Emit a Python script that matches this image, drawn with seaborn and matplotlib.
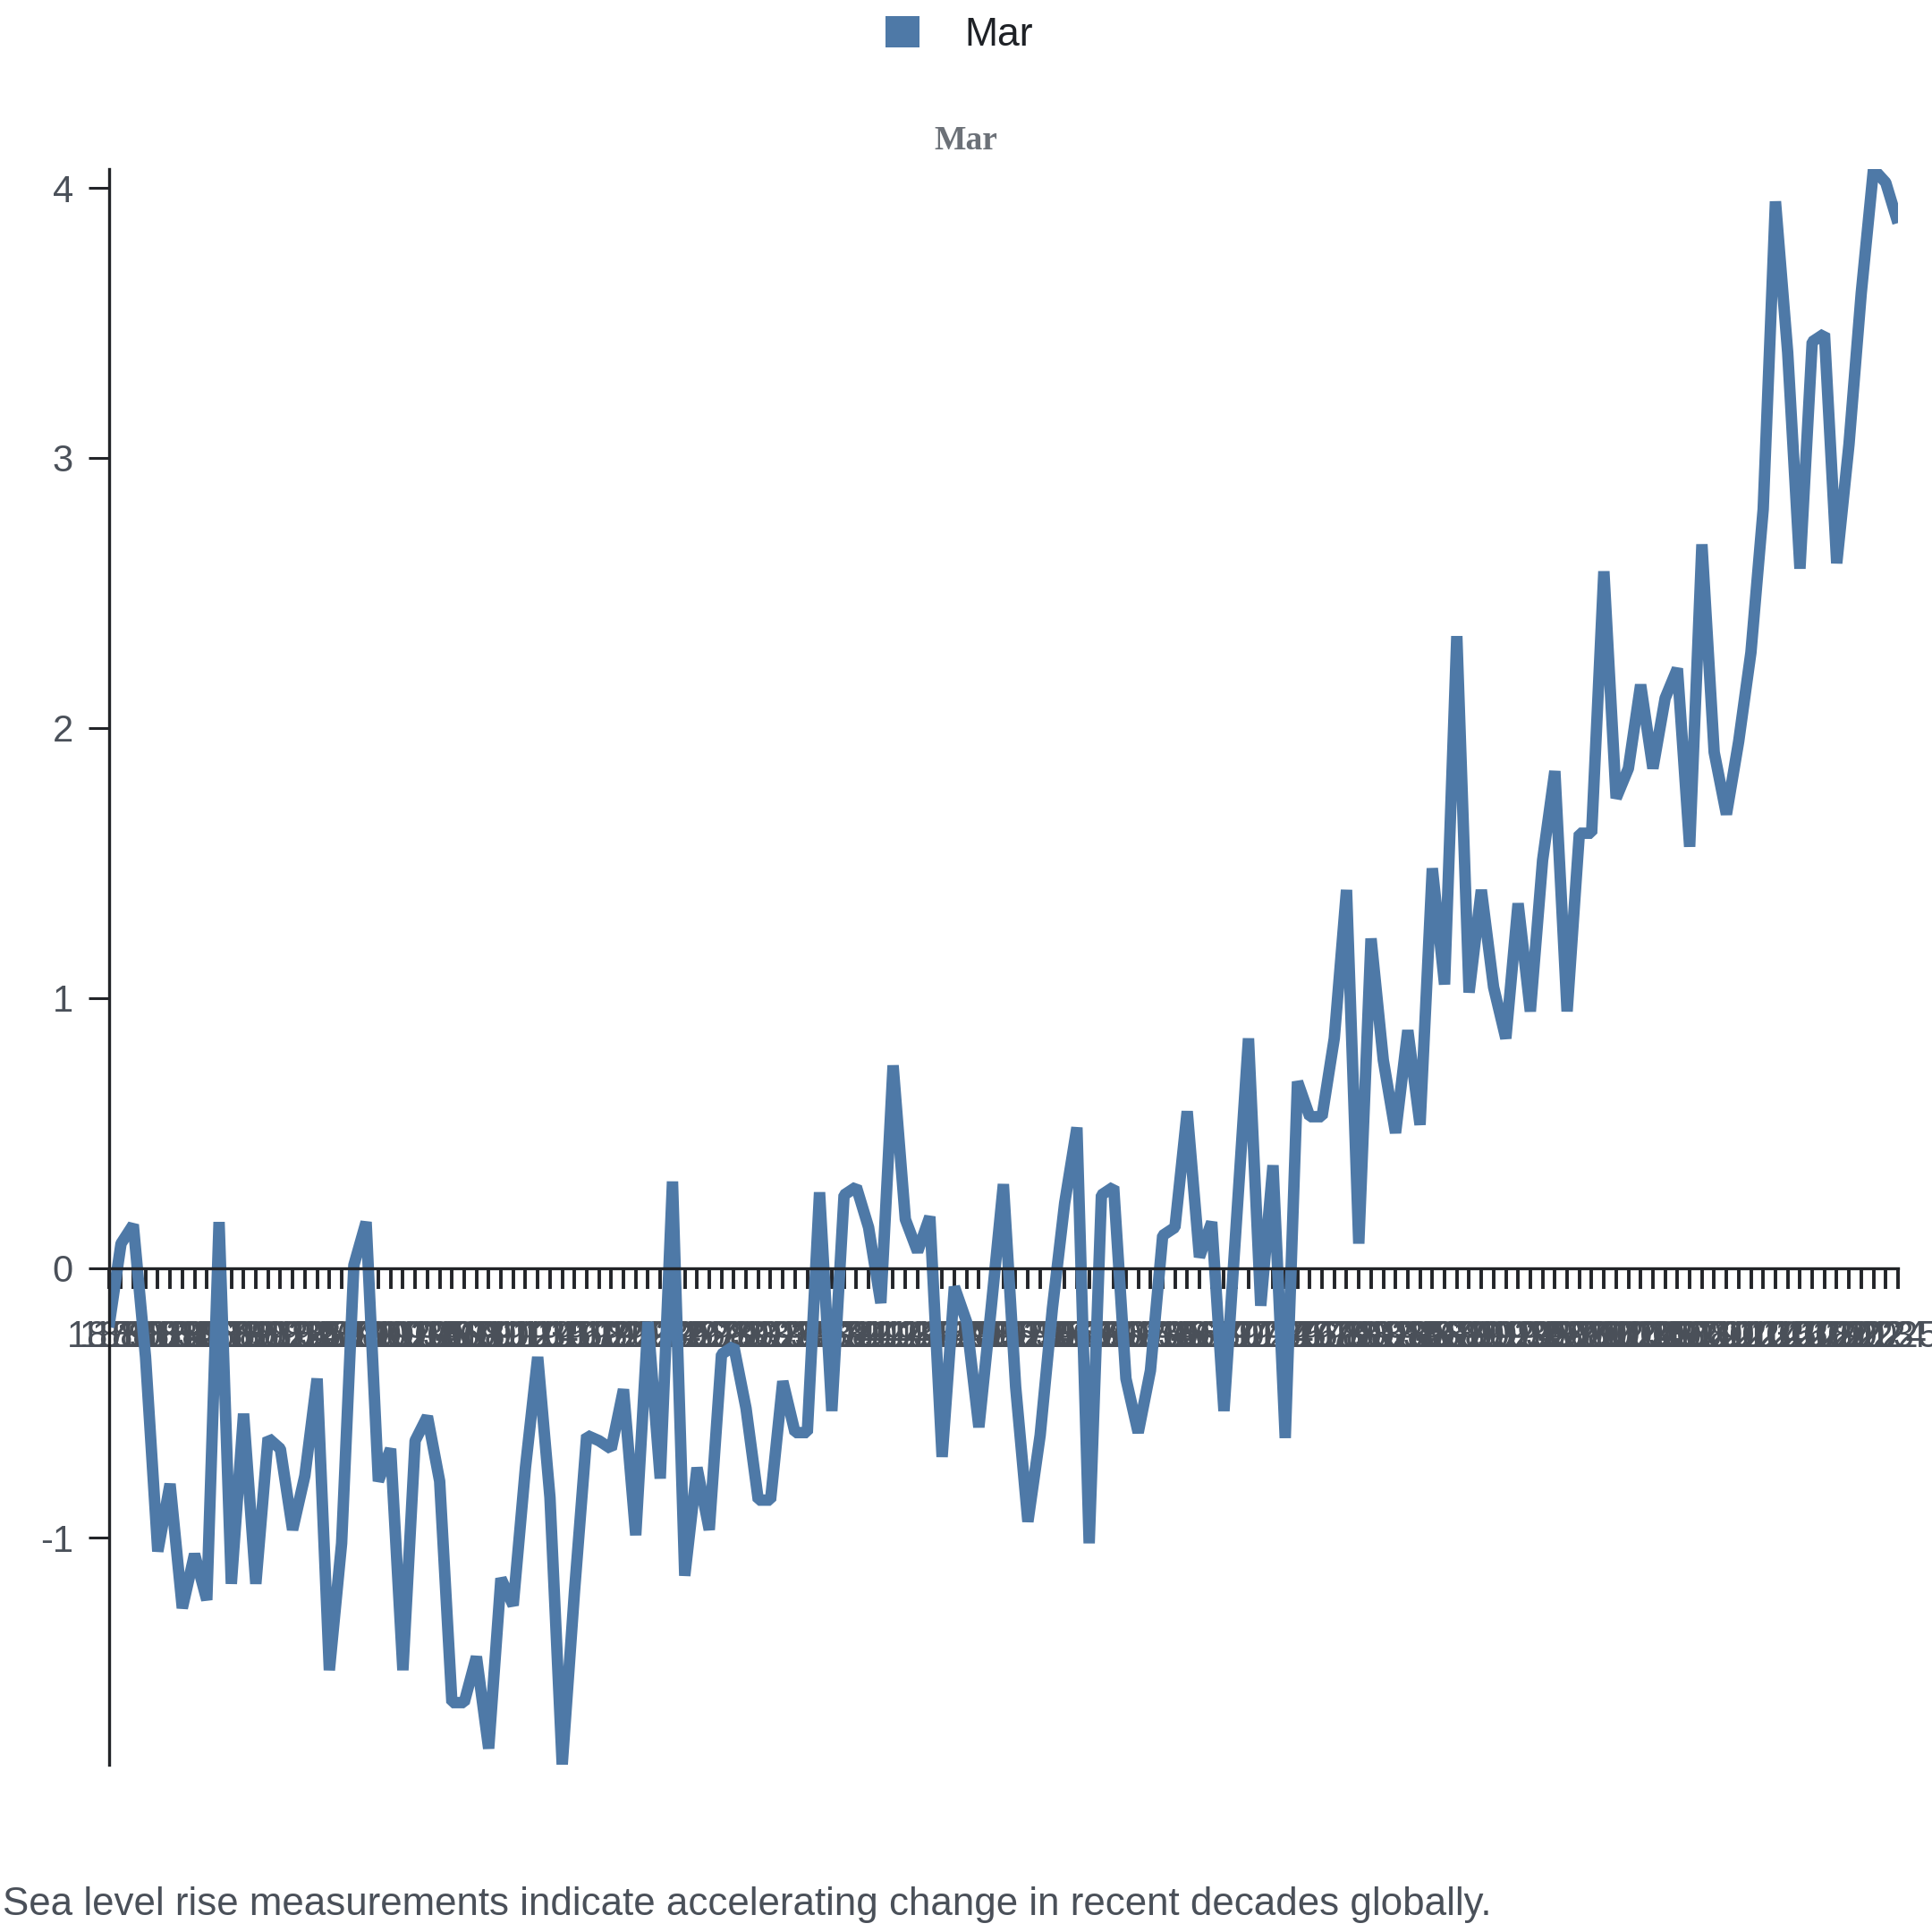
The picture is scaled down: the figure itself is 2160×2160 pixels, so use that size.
import matplotlib
matplotlib.use("Agg")
import matplotlib.pyplot as plt
from matplotlib.patches import Patch
import seaborn as sns
import pandas as pd

years = list(range(1879, 2026))
values = [
    -0.22, 0.09, 0.16, -0.33, -1.05, -0.80, -1.26, -1.06, -1.23, 0.17,
    -1.17, -0.54, -1.17, -0.63, -0.67, -0.97, -0.77, -0.41, -1.49, -1.02,
    0.01, 0.17, -0.79, -0.67, -1.49, -0.64, -0.55, -0.79, -1.61, -1.61,
    -1.44, -1.78, -1.15, -1.25, -0.74, -0.33, -0.85, -1.84, -1.20, -0.62,
    -0.64, -0.67, -0.45, -0.99, -0.20, -0.78, 0.32, -1.14, -0.74, -0.97,
    -0.32, -0.29, -0.52, -0.86, -0.86, -0.42, -0.61, -0.61, 0.28, -0.53,
    0.27, 0.30, 0.15, -0.13, 0.75, 0.18, 0.06, 0.19, -0.70, -0.07,
    -0.20, -0.59, -0.15, 0.31, -0.44, -0.94, -0.62, -0.15, 0.24, 0.52,
    -1.02, 0.27, 0.30, -0.41, -0.61, -0.38, 0.12, 0.15, 0.58, 0.04,
    0.17, -0.53, 0.16, 0.85, -0.14, 0.38, -0.63, 0.69, 0.56, 0.56,
    0.85, 1.40, 0.09, 1.22, 0.77, 0.50, 0.88, 0.53, 1.48, 1.05,
    2.34, 1.02, 1.40, 1.04, 0.85, 1.35, 0.95, 1.51, 1.84, 0.95,
    1.61, 1.61, 2.58, 1.74, 1.85, 2.16, 1.85, 2.11, 2.22, 1.56,
    2.68, 1.91, 1.68, 1.95, 2.28, 2.81, 3.95, 3.39, 2.59, 3.43,
    3.46, 2.61, 3.05, 3.61, 4.07, 4.02, 3.87,
]
series_name = "Mar"
y_ticks = [-1, 0, 1, 2, 3, 4]
caption = "Sea level rise measurements indicate accelerating change in recent decades globally."

line_color = "#4e79a7"
axis_color = "#222428"
tick_text = "#4a5059"

sns.set_style("white")
plt.rcParams["font.family"] = ["Liberation Sans", "DejaVu Sans"]

df = pd.DataFrame({"year": years, "value": values})

fig = plt.figure(figsize=(10.8, 10.8), dpi=200)
ax = fig.add_axes([0.0563, 0.0866, 0.9261, 0.8259])

sns.lineplot(data=df, x="year", y="value", ax=ax, color=line_color,
             linewidth=4.6, solid_joinstyle="bevel", solid_capstyle="butt",
             legend=False)

ax.set_xlim(years[0], years[-1])
ax.set_ylim(min(values), max(values))

ax.spines["top"].set_visible(False)
ax.spines["right"].set_visible(False)
ax.spines["bottom"].set_position(("data", 0))
for s in ("left", "bottom"):
    ax.spines[s].set_color(axis_color)
    ax.spines[s].set_linewidth(1.2)

ax.set_xticks(years)
ax.set_xticklabels([str(y) for y in years])
ax.set_yticks(y_ticks)
ax.set_yticklabels([str(t) for t in y_ticks])
ax.tick_params(axis="x", bottom=True, direction="out", length=8.3, width=1.4,
               color=axis_color, labelsize=15, labelcolor=tick_text, pad=12.5)
ax.tick_params(axis="y", left=True, direction="out", length=8.3, width=1.1,
               color=axis_color, labelsize=15, labelcolor=tick_text, pad=6)
ax.set_xlabel("")
ax.set_ylabel("")
ax.grid(False)

fig.text(0.5, 0.927, series_name, ha="center", va="center", fontsize=13.5,
         fontweight="bold", family=["Liberation Serif", "DejaVu Serif"], color="#6c7178")

fig.legend(handles=[Patch(facecolor=line_color, edgecolor="none")], labels=[series_name],
           loc="center", bbox_to_anchor=(0.4965, 0.982), frameon=False,
           handlelength=0.85, handleheight=0.85, handletextpad=1.15,
           fontsize=16, labelcolor="#1e2126")

fig.text(0.0014, 0.0088, caption, ha="left", va="baseline", fontsize=15.8, color=tick_text)

fig.savefig("out.png", dpi=200, facecolor="white")
